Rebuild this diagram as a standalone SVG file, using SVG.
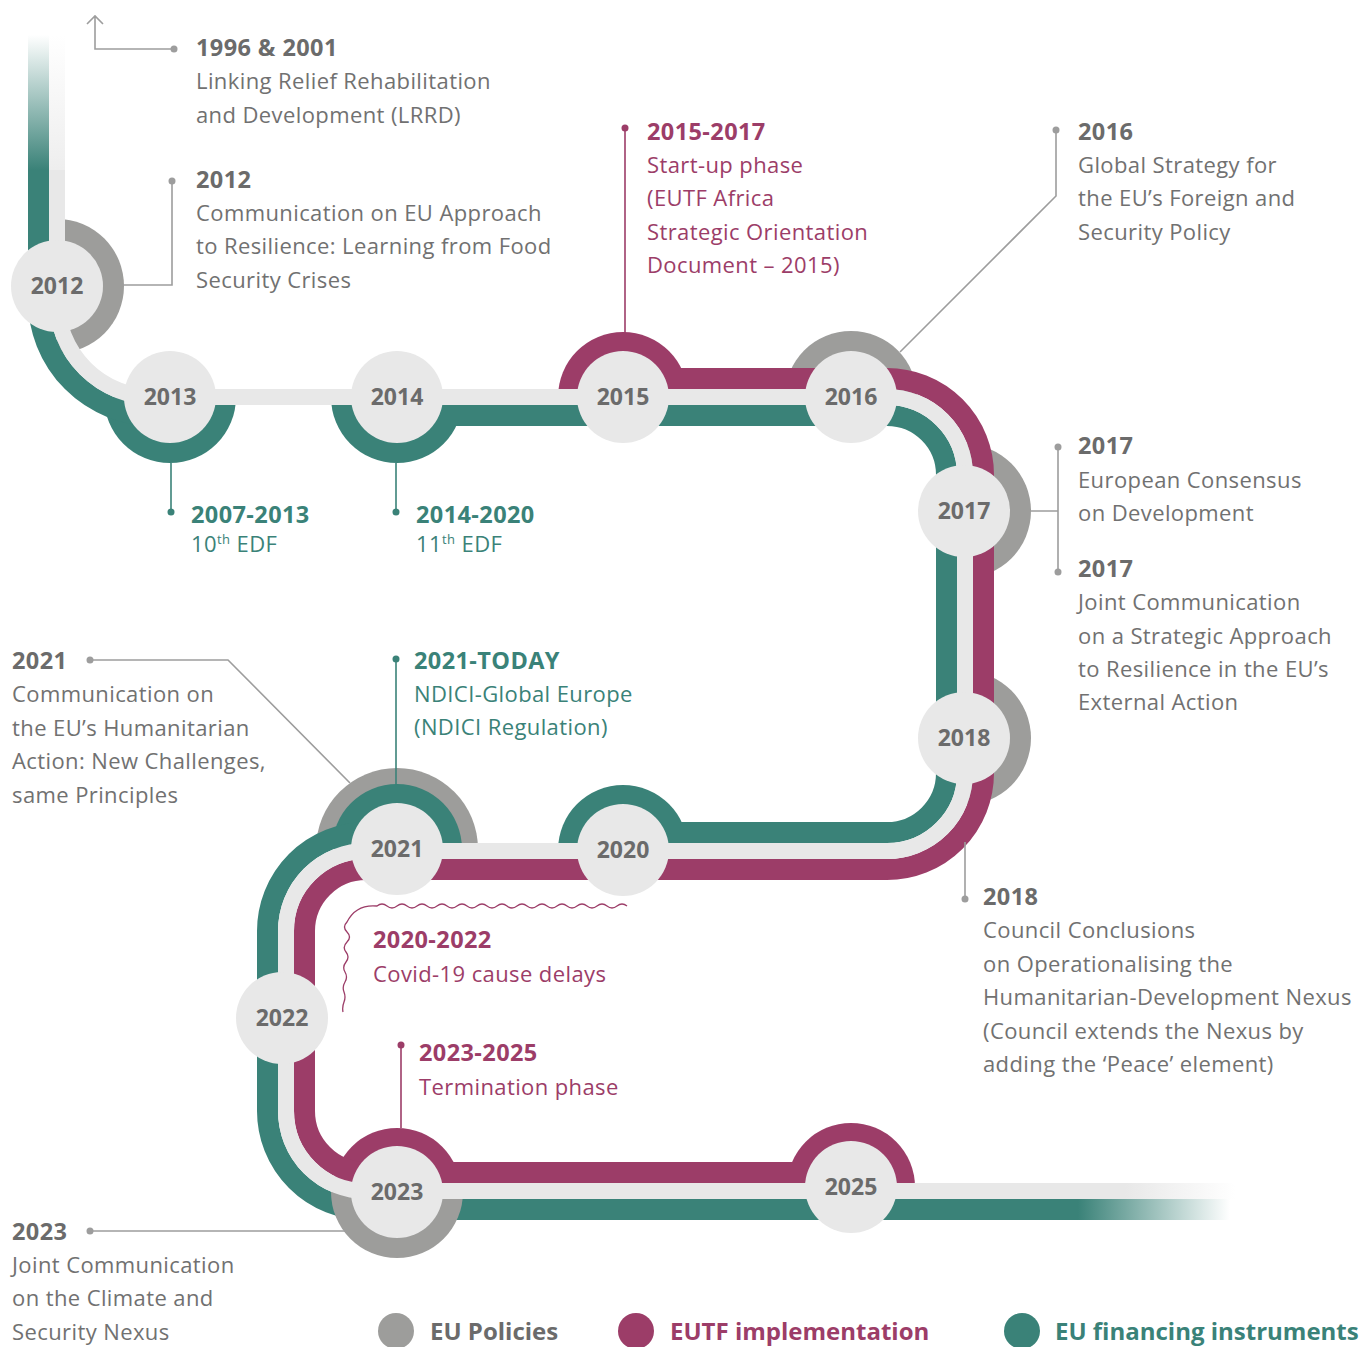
<svg xmlns="http://www.w3.org/2000/svg" width="1368" height="1347" viewBox="0 0 1368 1347">
<defs>
<linearGradient id="gTopTeal" gradientUnits="userSpaceOnUse" x1="0" y1="35" x2="0" y2="170"><stop offset="0" stop-color="#ffffff"/><stop offset="1" stop-color="#3a8278"/></linearGradient>
<linearGradient id="gTopLight" gradientUnits="userSpaceOnUse" x1="0" y1="35" x2="0" y2="170"><stop offset="0" stop-color="#ffffff"/><stop offset="1" stop-color="#eeeeee"/></linearGradient>
<linearGradient id="gEndTeal" gradientUnits="userSpaceOnUse" x1="1078" y1="0" x2="1230" y2="0"><stop offset="0" stop-color="#3a8278"/><stop offset="1" stop-color="#ffffff"/></linearGradient>
<linearGradient id="gEndLight" gradientUnits="userSpaceOnUse" x1="1078" y1="0" x2="1235" y2="0"><stop offset="0" stop-color="#e8e8e8"/><stop offset="0.3" stop-color="#e8e8e8"/><stop offset="1" stop-color="#ffffff"/></linearGradient>
</defs>
<style>
.teal{fill:none;stroke:#3a8278;stroke-width:21}
.mag{fill:none;stroke:#9c3d68;stroke-width:21}
.light{fill:none;stroke:#e8e8e8;stroke-width:16}
.gring{fill:#9d9d9b}
.tring{fill:#3a8278}
.mring{fill:#9c3d68}
.node circle{fill:#e8e8e8}
.node text{font-family:"Open Sans","Liberation Sans",sans-serif;font-weight:700;font-size:23px;fill:#6b6b6b;text-anchor:middle}
.c{fill:none;stroke:#9d9d9d;stroke-width:1.6}
.ct{fill:none;stroke:#3a8278;stroke-width:1.6}
.cm{fill:none;stroke:#9c3d68;stroke-width:1.6}
.d{fill:#9d9d9d}
.dt{fill:#3a8278}
.dm{fill:#9c3d68}
.t{font-family:"Open Sans","Liberation Sans",sans-serif;font-size:22px;letter-spacing:0.4px;fill:#717171}
.h{font-family:"Open Sans","Liberation Sans",sans-serif;font-size:23.5px;letter-spacing:0.4px;font-weight:700;fill:#6b6b6b}
.tt{fill:#3a8278}
.tm{fill:#9c3d68}
.lg{font-family:"Open Sans","Liberation Sans",sans-serif;font-size:24px;font-weight:700}
</style>

<g id="policy-rings">
<path class="gring" d="M57,219 A67,67 0 0 1 57,353 Z"/>
<path class="gring" d="M785,397 A66,66 0 0 1 917,397 Z"/>
<path class="gring" d="M964,444 A67,67 0 0 1 964,578 Z"/>
<path class="gring" d="M964,671 A67,67 0 0 1 964,805 Z"/>
<path class="gring" d="M316,849 A81,81 0 0 1 478,849 Z"/>
</g>

<g id="track-rings">
<path class="tring" d="M104,397 A66,66 0 0 0 236,397 Z"/>
<path class="tring" d="M331,397 A66,66 0 0 0 463,397 Z"/>
<path class="mring" d="M558,397 A65,65 0 0 1 688,397 Z"/>
<path class="tring" d="M558,850 A65,65 0 0 1 688,850 Z"/>
<path class="tring" d="M332,849 A65,65 0 0 1 462,849 Z"/>
<path class="mring" d="M333,1192 A64,64 0 0 1 461,1192 Z"/>
<path class="mring" d="M787,1187 A64,64 0 0 1 915,1187 Z"/>
</g>

<g id="track">
<rect x="28" y="35" width="21" height="136" fill="url(#gTopTeal)"/>
<path class="teal" d="M38.5,170 L38.5,300 A115.5,115.5 0 0 0 154,415.5 L170,415.5"/>
<path class="teal" d="M397,415.5 L887,415.5 A59.5,59.5 0 0 1 946.5,475 L946.5,773 A59.5,59.5 0 0 1 887,832.5 L623,832.5"/>
<path class="teal" d="M397,832.5 L366,832.5 A98.5,98.5 0 0 0 267.5,931 L267.5,1111 A98.5,98.5 0 0 0 366,1209.5 L1078,1209.5"/>
<rect x="1078" y="1199" width="152" height="21" fill="url(#gEndTeal)"/>
<path class="mag" d="M623,378.5 L887,378.5 A96.5,96.5 0 0 1 983.5,475 L983.5,773 A96.5,96.5 0 0 1 887,869.5 L366,869.5 A61.5,61.5 0 0 0 304.5,931 L304.5,1111 A61.5,61.5 0 0 0 366,1172.5 L851,1172.5"/>
<path class="gring" d="M331,1192 A66,66 0 0 0 463,1192 Z"/>
<rect x="49" y="35" width="16" height="136" fill="url(#gTopLight)"/>
<path class="light" d="M57,170 L57,300 A97,97 0 0 0 154,397 L887,397 A78,78 0 0 1 965,475 L965,773 A78,78 0 0 1 887,851 L366,851 A80,80 0 0 0 286,931 L286,1111 A80,80 0 0 0 366,1191 L1078,1191"/>
<rect x="1078" y="1183" width="157" height="16" fill="url(#gEndLight)"/>
</g>

<g id="connectors">
<path class="c" d="M174,49 L95,49 L95,16 M87,24 L95,16 L103,24"/>
<circle class="d" cx="174" cy="49" r="3.5"/>
<path class="c" d="M172,181 L172,285 L123,285"/>
<circle class="d" cx="172" cy="181" r="3.5"/>
<path class="ct" d="M171,463 L171,512"/>
<circle class="dt" cx="171" cy="512" r="3.5"/>
<path class="ct" d="M396,463 L396,512"/>
<circle class="dt" cx="396" cy="512" r="3.5"/>
<path class="cm" d="M625,128 L625,333"/>
<circle class="dm" cx="625" cy="128" r="3.5"/>
<path class="c" d="M1056,130 L1056,196 L900,352"/>
<circle class="d" cx="1056" cy="130" r="3.5"/>
<path class="c" d="M1058,447 L1058,572 M1031,511 L1058,511"/>
<circle class="d" cx="1058" cy="447" r="3.5"/>
<circle class="d" cx="1058" cy="572" r="3.5"/>
<path class="c" d="M965,842 L965,899"/>
<circle class="d" cx="965" cy="899" r="3.5"/>
<path class="c" d="M90,660 L228,660 L350,783"/>
<circle class="d" cx="90" cy="660" r="3.5"/>
<path class="ct" d="M396,659 L396,785"/>
<circle class="dt" cx="396" cy="659" r="3.5"/>
<path class="cm" d="M401,1045 L401,1128"/>
<circle class="dm" cx="401" cy="1045" r="3.5"/>
<path class="c" d="M90,1231 L345,1231"/>
<circle class="d" cx="90" cy="1231" r="3.5"/>
<path fill="none" stroke="#9c3d68" stroke-width="1.3" d="M627,906 q-5,-4 -10,0 t-10,0 t-10,0 t-10,0 t-10,0 t-10,0 t-10,0 t-10,0 t-10,0 t-10,0 t-10,0 t-10,0 t-10,0 t-10,0 t-10,0 t-10,0 t-10,0 t-10,0 t-10,0 t-10,0 t-10,0 t-10,0 t-10,0 t-10,0 t-10,0 Q356,904 347,922 q-5,5 0,10 t0,10 t-1,10 t0,10 t-1,10 t0,10 t-1,10 t0,10 t-1,10"/>
</g>

<g id="node-2012" class="node"><circle cx="57" cy="286" r="46"/><text x="57" y="294">2012</text></g>
<g id="node-2013" class="node"><circle cx="170" cy="397" r="46"/><text x="170" y="405">2013</text></g>
<g id="node-2014" class="node"><circle cx="397" cy="397" r="46"/><text x="397" y="405">2014</text></g>
<g id="node-2015" class="node"><circle cx="623" cy="397" r="46"/><text x="623" y="405">2015</text></g>
<g id="node-2016" class="node"><circle cx="851" cy="397" r="46"/><text x="851" y="405">2016</text></g>
<g id="node-2017" class="node"><circle cx="964" cy="511" r="46"/><text x="964" y="519">2017</text></g>
<g id="node-2018" class="node"><circle cx="964" cy="738" r="46"/><text x="964" y="746">2018</text></g>
<g id="node-2020" class="node"><circle cx="623" cy="850" r="46"/><text x="623" y="858">2020</text></g>
<g id="node-2021" class="node"><circle cx="397" cy="849" r="46"/><text x="397" y="857">2021</text></g>
<g id="node-2022" class="node"><circle cx="282" cy="1018" r="46"/><text x="282" y="1026">2022</text></g>
<g id="node-2023" class="node"><circle cx="397" cy="1192" r="46"/><text x="397" y="1200">2023</text></g>
<g id="node-2025" class="node"><circle cx="851" cy="1187" r="46"/><text x="851" y="1195">2025</text></g>

<g id="label-1996">
<text class="h" x="196" y="56">1996 &amp; 2001</text>
<text class="t" x="196" y="89">Linking Relief Rehabilitation</text>
<text class="t" x="196" y="123">and Development (LRRD)</text>
</g>
<g id="label-2012">
<text class="h" x="196" y="188">2012</text>
<text class="t" x="196" y="221">Communication on EU Approach</text>
<text class="t" x="196" y="254">to Resilience: Learning from Food</text>
<text class="t" x="196" y="288">Security Crises</text>
</g>
<g id="label-2007-2013">
<text class="h tt" x="191" y="523">2007-2013</text>
<text class="t tt" x="191" y="552">10<tspan font-size="13" dy="-8">th</tspan><tspan dy="8"> EDF</tspan></text>
</g>
<g id="label-2014-2020">
<text class="h tt" x="416" y="523">2014-2020</text>
<text class="t tt" x="416" y="552">11<tspan font-size="13" dy="-8">th</tspan><tspan dy="8"> EDF</tspan></text>
</g>
<g id="label-2015-2017">
<text class="h tm" x="647" y="140">2015-2017</text>
<text class="t tm" x="647" y="173">Start-up phase</text>
<text class="t tm" x="647" y="206">(EUTF Africa</text>
<text class="t tm" x="647" y="240">Strategic Orientation</text>
<text class="t tm" x="647" y="273">Document – 2015)</text>
</g>
<g id="label-2016">
<text class="h" x="1078" y="140">2016</text>
<text class="t" x="1078" y="173">Global Strategy for</text>
<text class="t" x="1078" y="206">the EU’s Foreign and</text>
<text class="t" x="1078" y="240">Security Policy</text>
</g>
<g id="label-2017a">
<text class="h" x="1078" y="454">2017</text>
<text class="t" x="1078" y="488">European Consensus</text>
<text class="t" x="1078" y="521">on Development</text>
</g>
<g id="label-2017b">
<text class="h" x="1078" y="577">2017</text>
<text class="t" x="1078" y="610">Joint Communication</text>
<text class="t" x="1078" y="644">on a Strategic Approach</text>
<text class="t" x="1078" y="677">to Resilience in the EU’s</text>
<text class="t" x="1078" y="710">External Action</text>
</g>
<g id="label-2018">
<text class="h" x="983" y="905">2018</text>
<text class="t" x="983" y="938">Council Conclusions</text>
<text class="t" x="983" y="972">on Operationalising the</text>
<text class="t" x="983" y="1005">Humanitarian-Development Nexus</text>
<text class="t" x="983" y="1039">(Council extends the Nexus by</text>
<text class="t" x="983" y="1072">adding the ‘Peace’ element)</text>
</g>
<g id="label-2021">
<text class="h" x="12" y="669">2021</text>
<text class="t" x="12" y="702">Communication on</text>
<text class="t" x="12" y="736">the EU’s Humanitarian</text>
<text class="t" x="12" y="769">Action: New Challenges,</text>
<text class="t" x="12" y="803">same Principles</text>
</g>
<g id="label-2021-today">
<text class="h tt" x="414" y="669">2021-TODAY</text>
<text class="t tt" x="414" y="702">NDICI-Global Europe</text>
<text class="t tt" x="414" y="735">(NDICI Regulation)</text>
</g>
<g id="label-2020-2022">
<text class="h tm" x="373" y="948">2020-2022</text>
<text class="t tm" x="373" y="982">Covid-19 cause delays</text>
</g>
<g id="label-2023-2025">
<text class="h tm" x="419" y="1061">2023-2025</text>
<text class="t tm" x="419" y="1095">Termination phase</text>
</g>
<g id="label-2023">
<text class="h" x="12" y="1240">2023</text>
<text class="t" x="12" y="1273">Joint Communication</text>
<text class="t" x="12" y="1306">on the Climate and</text>
<text class="t" x="12" y="1340">Security Nexus</text>
</g>

<g id="legend">
<circle cx="396" cy="1331" r="18" fill="#9d9d9b"/>
<text class="lg" x="430" y="1340" fill="#6b6b6b">EU Policies</text>
<circle cx="636" cy="1331" r="18" fill="#9c3d68"/>
<text class="lg" x="670" y="1340" fill="#9c3d68">EUTF implementation</text>
<circle cx="1022" cy="1331" r="18" fill="#3a8278"/>
<text class="lg" x="1055" y="1340" fill="#3a8278">EU financing instruments</text>
</g>
</svg>
